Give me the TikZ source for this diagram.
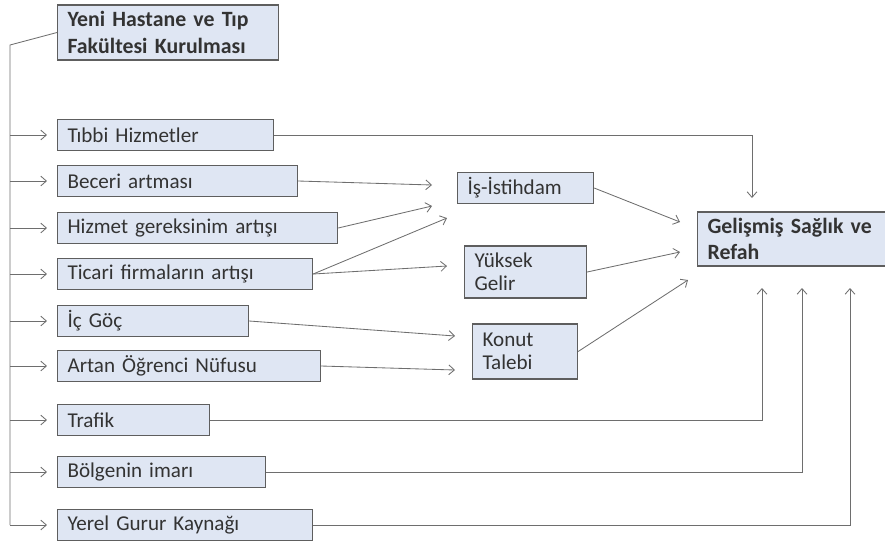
\documentclass[tikz,border=0pt]{standalone}
\usepackage{fontspec}
\setmainfont{Carlito}
\usetikzlibrary{arrows.meta,shadows}

\definecolor{kutumavi}{HTML}{DFE6F3}
\definecolor{kenar}{HTML}{5E5E5E}
\definecolor{cizgi}{HTML}{6E6E6E}
\definecolor{yazi}{HTML}{333333}

\tikzset{
  kutu/.style={rectangle, draw=kenar, fill=kutumavi, line width=0.8pt,
    inner xsep=0.25cm, inner ysep=0pt, minimum height=0.775cm,
    text width=#1, align=left, anchor=west, text=yazi,
    drop shadow={shadow xshift=0.6pt, shadow yshift=-0.6pt, fill=black!50, opacity=0.5},
    font=\fontsize{15}{16.5}\selectfont},
  kalin/.style={font=\bfseries\fontsize{15.5}{19}\selectfont},
  ok/.style={-{Straight Barb[length=4pt,width=7pt]}, draw=cizgi, line width=0.6pt},
  hat/.style={draw=cizgi, line width=0.6pt}
}

\begin{document}
\begin{tikzpicture}[x=0.025cm, y=-0.025cm]
  \useasboundingbox (0,0) rectangle (885,547);

  % kaynak
  \node [kutu=5.025cm, minimum height=1.375cm, kalin] (kurulus) at (57,32.5) {Yeni Hastane ve Tıp\\Fakültesi Kurulması};

  % sol sutun
  \node [kutu=4.9cm]   (tibbi)   at (57,135) {Tıbbi Hizmetler};
  \node [kutu=5.5cm]   (beceri)  at (57,181) {Beceri artması};
  \node [kutu=6.5cm]   (hizmet)  at (57,228) {Hizmet gereksinim artışı};
  \node [kutu=5.875cm] (ticari)  at (57,274) {Ticari firmaların artışı};
  \node [kutu=4.275cm] (goc)     at (57,321) {İç Göç};
  \node [kutu=6.075cm] (ogrenci) at (57,366) {Artan Öğrenci Nüfusu};
  \node [kutu=3.3cm]   (trafik)  at (57,420) {Trafik};
  \node [kutu=4.7cm]   (imar)    at (57,472) {Bölgenin imarı};
  \node [kutu=5.875cm] (gurur)   at (57,525) {Yerel Gurur Kaynağı};

  % orta
  \node [kutu=2.9cm] (istihdam) at (457,188) {İş-İstihdam};
  \node [kutu=2.55cm, minimum height=1.3cm] (gelir) at (464,272) {Yüksek\\Gelir};
  \node [kutu=2.125cm, minimum height=1.375cm] (konut) at (472,351.5) {Konut\\Talebi};

  % sonuc
  \node [kutu=4.25cm, minimum height=1.35cm, kalin] (refah) at (697,239) {Gelişmiş Sağlık ve\\Refah};

  % gövde
  \coordinate (govde) at (10,45);
  \draw [hat] (kurulus.west) -- (govde) -- (govde |- gurur.west);
  \foreach \k in {tibbi,beceri,hizmet,ticari,goc,ogrenci,trafik,imar,gurur}
    \draw [ok, shorten >=0.25cm] (govde |- \k.west) -- (\k.west);

  % serbest uclar
  \coordinate (is1) at (432,185);
  \coordinate (is2) at (432,206);
  \coordinate (is3) at (447,218);
  \coordinate (ge1) at (447,266);
  \coordinate (ko1) at (455,336);
  \coordinate (ko2) at (455,370);
  \coordinate (re1) at (680,222);
  \coordinate (re2) at (680,252);
  \coordinate (re3) at (688,280);
  \coordinate (reu) at (752,198);
  \coordinate (ra1) at (762,288);
  \coordinate (ra2) at (802,288);
  \coordinate (ra3) at (850,288);

  \draw [ok] (beceri.east) -- (is1);
  \draw [ok] (hizmet.east) -- (is2);
  \draw [ok] (ticari.east) -- (is3);
  \draw [ok] (ticari.east) -- (ge1);
  \draw [ok] (goc.east) -- (ko1);
  \draw [ok] (ogrenci.east) -- (ko2);

  \draw [ok] (istihdam.east) -- (re1);
  \draw [ok] (gelir.east) -- (re2);
  \draw [ok] (konut.east) -- (re3);
  \draw [ok] (tibbi.east) -| (reu);
  \draw [ok] (trafik.east) -| (ra1);
  \draw [ok] (imar.east) -| (ra2);
  \draw [ok] (gurur.east) -| (ra3);

\end{tikzpicture}
\end{document}
